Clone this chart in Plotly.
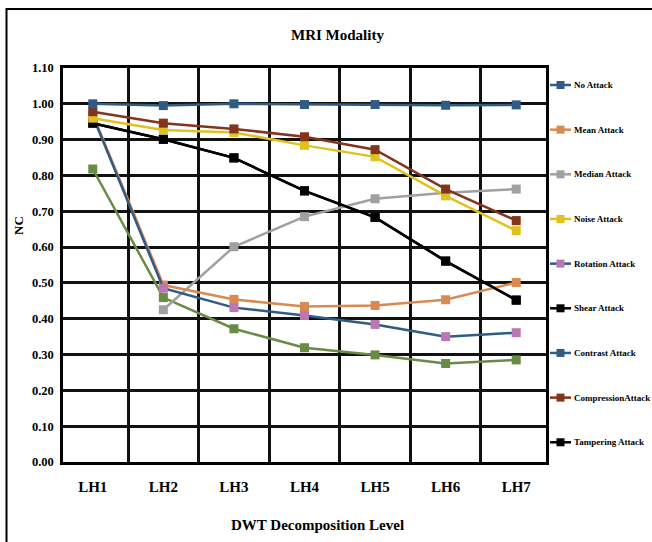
import plotly.graph_objects as go

# DWT decomposition levels
levels = ["LH1", "LH2", "LH3", "LH4", "LH5", "LH6", "LH7"]

# NC values per attack
no_attack = [1.00, 0.995, 1.00, 0.998, 0.998, 0.996, 0.997]
mean_attack = [0.970, 0.494, 0.454, 0.434, 0.437, 0.453, 0.501]
median_attack = [None, 0.425, 0.601, 0.685, 0.735, 0.752, 0.762]
noise_attack = [0.960, 0.927, 0.920, 0.884, 0.852, 0.743, 0.646]
rotation_attack = [0.966, 0.485, 0.431, 0.409, 0.384, 0.350, 0.361]
shear_attack = [0.946, 0.901, 0.849, 0.757, 0.683, 0.561, 0.452]
contrast_attack = [0.818, 0.459, 0.372, 0.319, 0.299, 0.275, 0.285]
compression_attack = [0.978, 0.946, 0.930, 0.908, 0.872, 0.762, 0.674]
tampering_attack = [0.946, 0.901, 0.849, 0.757, 0.683, 0.561, 0.452]

y_ticks = [round(0.1 * i, 2) for i in range(12)]
y_tick_text = [f"{v:.2f}" for v in y_ticks]

BLUE = "#2F5B85"
ORANGE = "#D98A52"
GRAY = "#A0A0A0"
YELLOW = "#DFC21F"
PINK = "#B978B3"
BLACK = "#000000"
GREEN = "#6A8B45"
BROWN = "#83341A"

# (name, values, line colour, marker colour in plot, key line colour, key marker colour)
series = [
    ("Tampering Attack", tampering_attack, BLACK, BLACK, BLACK, BLACK),
    ("Contrast Attack", contrast_attack, GREEN, GREEN, BLUE, BLUE),
    ("Median Attack", median_attack, GRAY, GRAY, GRAY, GRAY),
    ("Mean Attack", mean_attack, ORANGE, ORANGE, ORANGE, ORANGE),
    ("Rotation Attack", rotation_attack, BLUE, PINK, BLUE, PINK),
    ("Shear Attack", shear_attack, BLACK, BLACK, BLACK, BLACK),
    ("Noise Attack", noise_attack, YELLOW, YELLOW, YELLOW, YELLOW),
    ("CompressionAttack", compression_attack, BROWN, BROWN, BROWN, BROWN),
    ("No Attack", no_attack, BLUE, BLUE, BLUE, BLUE),
]
legend_order = ["No Attack", "Mean Attack", "Median Attack", "Noise Attack",
                "Rotation Attack", "Shear Attack", "Contrast Attack",
                "CompressionAttack", "Tampering Attack"]

FONT = "Liberation Serif"

# plot-area geometry in pixels
W, H = 652, 542
L, R, T, B = 63, 546, 68, 462
PW, PH = R - L, B - T


def px_x(px):
    return (px - L) / PW


def px_y(py):
    return (B - py) / PH


fig = go.Figure()

for name, vals, lc, mc, _, _ in series:
    fig.add_trace(go.Scatter(
        x=levels, y=vals, mode="lines+markers", name=name, showlegend=False,
        line=dict(color=lc, width=2.5),
        marker=dict(symbol="square", size=9, color=mc),
        connectgaps=False,
    ))

# Key on the right: a short line, a square marker and a bold label per series
shapes = []
annotations = []
lookup = {s[0]: s for s in series}
row0, row_step = 85.0, 44.66
for i, name in enumerate(legend_order):
    _, _, _, _, klc, kmc = lookup[name]
    yy = px_y(row0 + i * row_step)
    shapes.append(dict(type="line", xref="paper", yref="paper",
                       x0=px_x(550), x1=px_x(571), y0=yy, y1=yy,
                       line=dict(color=klc, width=2.5)))
    shapes.append(dict(type="rect", xref="paper", yref="paper",
                       x0=px_x(556.5), x1=px_x(564.5),
                       y0=yy - 4 / PH, y1=yy + 4 / PH,
                       line=dict(width=0), fillcolor=kmc))
    annotations.append(dict(text=name, xref="paper", yref="paper",
                            x=px_x(572), y=yy, xanchor="left", yanchor="middle",
                            showarrow=False,
                            font=dict(family=FONT, size=9, weight="bold", color="black")))

# outer chart frame
shapes.append(dict(type="rect", xref="paper", yref="paper",
                   x0=px_x(6.5), x1=px_x(700), y0=px_y(600), y1=px_y(9),
                   line=dict(color="black", width=2), fillcolor="rgba(0,0,0,0)",
                   layer="below"))

annotations += [
    dict(text="MRI Modality", xref="paper", yref="paper",
         x=px_x(337.5), y=px_y(35), xanchor="center", yanchor="middle",
         showarrow=False, font=dict(family=FONT, size=15, weight="bold")),
    dict(text="DWT Decomposition Level", xref="paper", yref="paper",
         x=px_x(317), y=px_y(525), xanchor="center", yanchor="middle",
         showarrow=False, font=dict(family=FONT, size=15, weight="bold")),
    dict(text="NC", xref="paper", yref="paper", textangle=-90,
         x=px_x(18), y=px_y(226), xanchor="center", yanchor="middle",
         showarrow=False, font=dict(family=FONT, size=13, weight="bold")),
]

fig.update_layout(
    width=W, height=H,
    margin=dict(l=L, r=W - R, t=T, b=H - B),
    paper_bgcolor="white", plot_bgcolor="white",
    font=dict(family=FONT, color="black"),
    showlegend=False,
    xaxis=dict(
        type="category", tickson="boundaries", automargin=False,
        showgrid=True, gridcolor="#111111", gridwidth=2.5,
        showline=True, linecolor="black", linewidth=2.5, mirror=True,
        ticks="", ticklabelstandoff=9,
        tickfont=dict(family=FONT, size=15, weight="bold"),
    ),
    yaxis=dict(
        range=[0, 1.10], tickvals=y_ticks, ticktext=y_tick_text, automargin=False,
        showgrid=True, gridcolor="#111111", gridwidth=2.5, zeroline=False,
        showline=True, linecolor="black", linewidth=2.5, mirror=True,
        ticks="", ticklabelstandoff=4,
        tickfont=dict(family=FONT, size=12.5, weight="bold"),
    ),
    annotations=annotations,
    shapes=shapes,
)

fig.write_html("out.html")
